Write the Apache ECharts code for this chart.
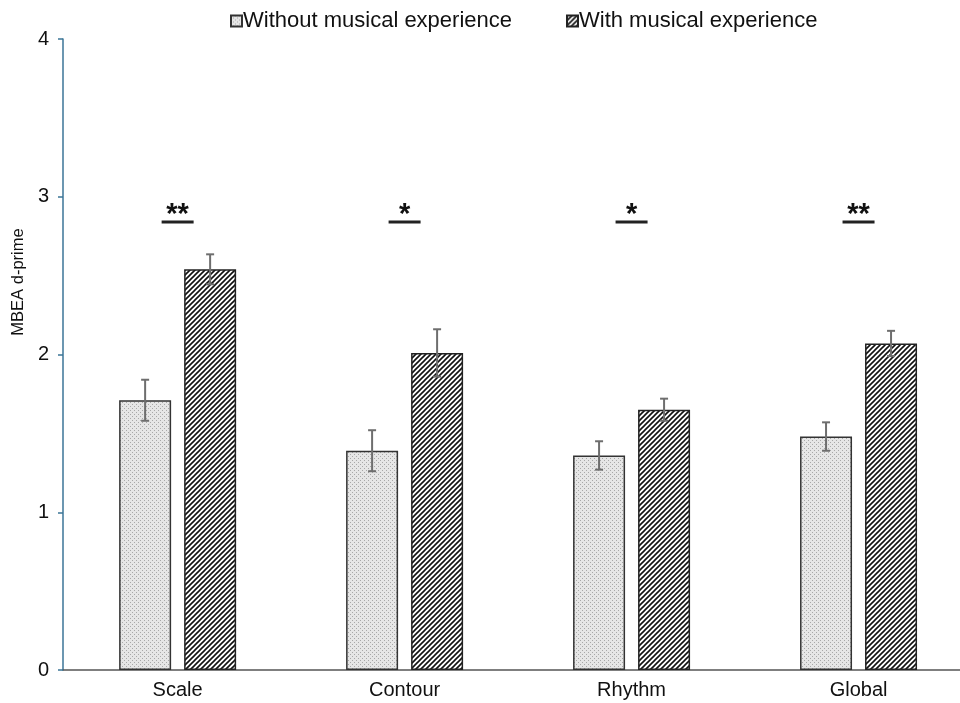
<!DOCTYPE html>
<html>
<head>
<meta charset="utf-8">
<title>MBEA d-prime by musical experience</title>
<script src="https://cdn.jsdelivr.net/npm/echarts@6/dist/echarts.min.js"></script>
<style>
  html, body { margin: 0; padding: 0; background: #fff; }
  #chart { width: 960px; height: 703px; }
</style>
</head>
<body>
<div id="chart"></div>
<script>
// Subtests of the MBEA battery
const categories = ['Scale', 'Contour', 'Rhythm', 'Global'];
const seriesNames = ['Without musical experience', 'With musical experience'];

// Mean d-prime and error (SEM) per group
const withoutMusic = [1.71, 1.39, 1.36, 1.48];
const withoutMusicErr = [0.13, 0.13, 0.09, 0.09];
const withMusic = [2.54, 2.01, 1.65, 2.07];
const withMusicErr = [0.095, 0.15, 0.07, 0.08];

// Significance markers drawn above each pair
const sigMarks = ['**', '*', '*', '**'];
const sigLevel = [2.84, 2.84, 2.84, 2.84];

const yTicks = [0, 1, 2, 3, 4];

// Fill textures
function dotPattern() {
  const c = document.createElement('canvas');
  c.width = 4; c.height = 4;
  const g = c.getContext('2d');
  g.fillStyle = '#e6e6e6';
  g.fillRect(0, 0, 4, 4);
  g.fillStyle = '#a8a8a8';
  g.fillRect(0, 0, 1, 1);
  g.fillRect(2, 2, 1, 1);
  return c;
}
function hatchPattern() {
  const n = 5;
  const c = document.createElement('canvas');
  c.width = n; c.height = n;
  const g = c.getContext('2d');
  g.fillStyle = '#ffffff';
  g.fillRect(0, 0, n, n);
  g.strokeStyle = '#111';
  g.lineWidth = 1.6;
  g.beginPath();
  g.moveTo(-1, n + 1); g.lineTo(n + 1, -1);
  g.moveTo(-1, 1); g.lineTo(1, -1);
  g.moveTo(n - 1, n + 1); g.lineTo(n + 1, n - 1);
  g.stroke();
  return c;
}

const BAR_W = 52;
const BAR_GAP = 13;
const OFFSET = (BAR_W + BAR_GAP) / 2;

// Category positions on a numeric x scale (one unit per subtest)
const catIdx = categories.map((_, i) => i);
const pairs = (vals) => vals.map((v, i) => [catIdx[i], v]);

function errorBars(values, errs, offset) {
  return {
    type: 'custom',
    silent: true,
    z: 10,
    data: values.map((v, i) => [catIdx[i], v - errs[i], v + errs[i]]),
    renderItem(params, api) {
      const lo = api.coord([api.value(0), api.value(1)]);
      const hi = api.coord([api.value(0), api.value(2)]);
      const x = lo[0] + offset;
      const half = 4;
      const st = { stroke: '#6e6e6e', lineWidth: 2 };
      return {
        type: 'group',
        children: [
          { type: 'line', shape: { x1: x, y1: hi[1], x2: x, y2: lo[1] }, style: st },
          { type: 'line', shape: { x1: x - half, y1: hi[1], x2: x + half, y2: hi[1] }, style: st },
          { type: 'line', shape: { x1: x - half, y1: lo[1], x2: x + half, y2: lo[1] }, style: st }
        ]
      };
    }
  };
}

const sigSeries = {
  type: 'custom',
  silent: true,
  z: 10,
  data: sigMarks.map((m, i) => [catIdx[i], sigLevel[i]]),
  renderItem(params, api) {
    const p = api.coord([api.value(0), api.value(1)]);
    const half = 16;
    return {
      type: 'group',
      children: [
        { type: 'line', shape: { x1: p[0] - half, y1: p[1], x2: p[0] + half, y2: p[1] },
          style: { stroke: '#222', lineWidth: 3 } },
        { type: 'text', x: p[0], y: p[1] + 8,
          style: { text: sigMarks[params.dataIndex], fill: '#111',
                   font: 'bold 29px "Liberation Sans", Arial, sans-serif',
                   textAlign: 'center', textVerticalAlign: 'bottom' } }
      ]
    };
  }
};

const chart = echarts.init(document.getElementById('chart'), null, { renderer: 'canvas' });

chart.setOption({
  animation: false,
  backgroundColor: '#ffffff',
  textStyle: { fontFamily: '"Liberation Sans", Arial, sans-serif' },
  legend: {
    data: seriesNames,
    top: 5,
    left: 225,
    itemWidth: 11,
    itemHeight: 11,
    itemGap: 54,
    icon: 'rect',
    textStyle: { fontSize: 22, color: '#111', padding: [0, 0, 0, -4] }
  },
  grid: { left: 63, top: 39, right: 0, height: 631 },
  xAxis: {
    type: 'value',
    min: -0.505,
    max: 3.447,
    splitLine: { show: false },
    axisLine: { show: true, onZero: false, lineStyle: { color: '#555', width: 1.5 } },
    axisTick: { show: false },
    axisLabel: {
      fontSize: 20, color: '#111', margin: 10,
      customValues: catIdx,
      formatter: (v) => categories[Math.round(v)]
    }
  },
  yAxis: {
    type: 'value',
    min: yTicks[0],
    max: yTicks[yTicks.length - 1],
    interval: 1,
    axisLine: { show: true, onZero: false, lineStyle: { color: '#3b7597', width: 1.5 } },
    axisTick: { show: true, length: 5, lineStyle: { color: '#3b7597', width: 1.5 } },
    axisLabel: { fontSize: 20, color: '#111', margin: 14 },
    splitLine: { show: false }
  },
  graphic: [{
    type: 'text',
    x: 18,
    y: 282,
    rotation: Math.PI / 2,
    style: {
      text: 'MBEA d-prime',
      font: '16.5px "Liberation Sans", Arial, sans-serif',
      fill: '#111',
      textAlign: 'center',
      textVerticalAlign: 'middle'
    }
  }],
  series: [
    {
      name: seriesNames[0],
      type: 'bar',
      data: pairs(withoutMusic),
      barWidth: BAR_W,
      barGap: (BAR_GAP / BAR_W * 100) + '%',
      itemStyle: {
        color: { image: dotPattern(), repeat: 'repeat' },
        borderColor: '#333',
        borderWidth: 1.5
      }
    },
    {
      name: seriesNames[1],
      type: 'bar',
      data: pairs(withMusic),
      barWidth: BAR_W,
      barGap: (BAR_GAP / BAR_W * 100) + '%',
      itemStyle: {
        color: { image: hatchPattern(), repeat: 'repeat' },
        borderColor: '#222',
        borderWidth: 1.5
      }
    },
    errorBars(withoutMusic, withoutMusicErr, -OFFSET),
    errorBars(withMusic, withMusicErr, OFFSET),
    sigSeries
  ]
});
</script>
</body>
</html>
